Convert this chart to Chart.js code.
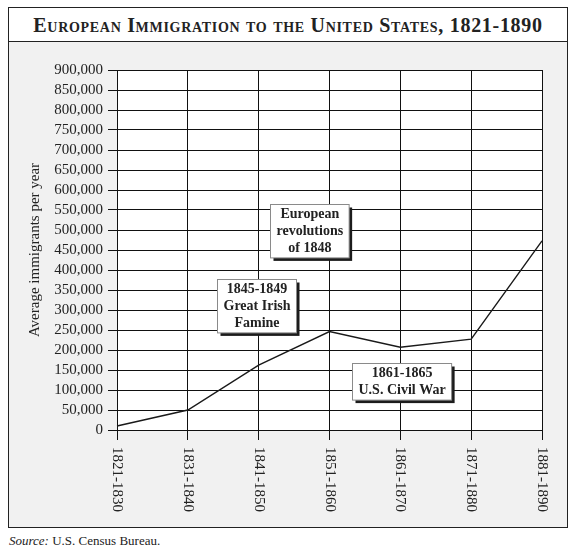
<!DOCTYPE html>
<html>
<head>
<meta charset="utf-8">
<script src="https://cdn.jsdelivr.net/npm/chart.js@4.4.1/dist/chart.umd.min.js"></script>
<style>
  html, body { margin: 0; padding: 0; background: #fff; }
  body { width: 577px; height: 552px; position: relative; overflow: hidden; }
  .frame {
    position: absolute; left: 8px; top: 7px; width: 558px; height: 519px;
    border: 1px solid #222; background: #f1f1f1;
  }
  .title {
    height: 33px; border-bottom: 1px solid #222; background: #fff;
    font-family: "Liberation Serif", serif; font-weight: bold; font-variant: small-caps;
    font-size: 20px; letter-spacing: 0.7px; color: #222; text-align: center; line-height: 34px;
    white-space: nowrap;
  }
  .plot { position: relative; width: 558px; height: 485px; }
  .source {
    position: absolute; left: 9px; top: 533px;
    font-family: "Liberation Serif", serif; font-size: 13px; color: #222;
  }
</style>
</head>
<body>
<div class="frame">
  <div class="title">European Immigration to the United States, 1821-1890</div>
  <div class="plot"><canvas id="chart"></canvas></div>
</div>
<div class="source"><i>Source:</i> U.S. Census Bureau.</div>
<script>
// decades and average yearly immigrants from Europe
const periods = ['1821-1830', '1831-1840', '1841-1850', '1851-1860', '1861-1870', '1871-1880', '1881-1890'];
const immigrants = [10000, 50000, 162000, 246000, 207000, 227000, 473000];
const yMin = 0;
const yMax = 900000;
const yStep = 50000;

// notes: lines of text, anchored at (category index, value) for the box centre
const noteLines = [
  ['European', 'revolutions', 'of 1848'],
  ['1845-1849', 'Great Irish', 'Famine'],
  ['1861-1865', 'U.S. Civil War']
];
const noteIndex = [2.72, 1.97, 4.02];
const noteValue = [497500, 311000, 121500];

const serif = '"Liberation Serif", "Times New Roman", serif';

const notesPlugin = {
  id: 'notes',
  afterDraw(chart) {
    const ctx = chart.ctx;
    const xs = chart.scales.x;
    const ys = chart.scales.y;
    const area = chart.chartArea;

    // x labels, turned clockwise
    ctx.save();
    ctx.font = '15px ' + serif;
    ctx.fillStyle = '#222';
    ctx.textAlign = 'left';
    ctx.textBaseline = 'middle';
    periods.forEach((p, i) => {
      const x = xs.getPixelForTick(i);
      ctx.save();
      ctx.translate(x, area.bottom + 17);
      ctx.rotate(Math.PI / 2);
      ctx.fillText(p, 0, 0);
      ctx.restore();
    });
    ctx.restore();

    // annotation boxes
    ctx.save();
    ctx.font = 'bold 14px ' + serif;
    const lh = 16.8;
    noteLines.forEach((lines, n) => {
      const cx = xs.getPixelForValue(noteIndex[n]);
      const cy = ys.getPixelForValue(noteValue[n]);
      const w = Math.max(...lines.map(l => ctx.measureText(l).width)) + 12;
      const h = lines.length * lh + 3;
      const left = Math.round(cx - w / 2) + 0.5;
      const top = Math.round(cy - h / 2) + 0.5;
      ctx.fillStyle = '#1c1c1c';
      ctx.fillRect(left + 3, top + 3, w, h);
      ctx.fillStyle = '#fff';
      ctx.fillRect(left, top, w, h);
      ctx.strokeStyle = '#8a8a8a';
      ctx.lineWidth = 1;
      ctx.strokeRect(left, top, w, h);
      ctx.fillStyle = '#222';
      ctx.textAlign = 'center';
      ctx.textBaseline = 'middle';
      lines.forEach((l, k) => {
        ctx.fillText(l, left + w / 2, top + 1.5 + lh * (k + 0.5));
      });
    });
    ctx.restore();
  }
};

const panelPlugin = {
  id: 'panel',
  beforeDraw(chart) {
    const a = chart.chartArea;
    const ctx = chart.ctx;
    ctx.save();
    ctx.fillStyle = '#fff';
    ctx.fillRect(a.left, a.top, a.right - a.left, a.bottom - a.top);
    ctx.restore();
  }
};

new Chart(document.getElementById('chart'), {
  type: 'line',
  data: {
    labels: periods,
    datasets: [{
      data: immigrants,
      borderColor: '#1a1a1a',
      borderWidth: 1.4,
      pointRadius: 0,
      tension: 0,
      fill: false
    }]
  },
  options: {
    responsive: true,
    maintainAspectRatio: false,
    animation: false,
    devicePixelRatio: 1,
    layout: { padding: { top: 28, right: 25, left: 0, bottom: 0 } },
    plugins: {
      legend: { display: false },
      tooltip: { enabled: false }
    },
    scales: {
      x: {
        offset: false,
        grid: { color: '#111', lineWidth: 1, tickLength: 10, drawTicks: true },
        border: { display: true, color: '#111' },
        ticks: { display: false, autoSkip: false },
        afterFit(scale) { scale.height = 97; }
      },
      y: {
        min: yMin,
        max: yMax,
        grid: { color: '#111', lineWidth: 1, tickLength: 9 },
        border: { display: true, color: '#111' },
        ticks: {
          stepSize: yStep,
          autoSkip: false,
          padding: 5,
          color: '#222',
          font: { family: serif, size: 15 },
          callback: v => v.toLocaleString('en-US')
        },
        title: {
          display: true,
          text: 'Average immigrants per year',
          color: '#222',
          font: { family: serif, size: 15 },
          padding: { top: 17, bottom: 0 }
        },
        afterFit(scale) { scale.width = 108; }
      }
    }
  },
  plugins: [panelPlugin, notesPlugin]
});
</script>
</body>
</html>
